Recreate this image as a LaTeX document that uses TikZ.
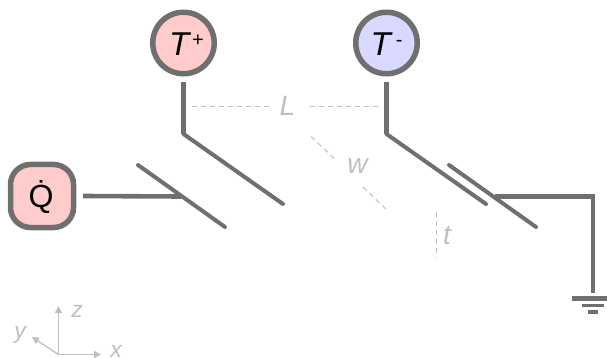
\documentclass[tikz,border=0pt]{standalone}
\usepackage{fontspec}
\setmainfont{Liberation Sans}
\usetikzlibrary{arrows.meta}
\definecolor{wire}{HTML}{6F6F6F}
\definecolor{faint}{HTML}{BFBFBF}
\definecolor{hot}{HTML}{FFCCCC}
\definecolor{cold}{HTML}{D9D9FF}
\newcommand{\bigtxt}{\fontsize{33}{33}\selectfont\itshape}
\newcommand{\suptxt}[1]{\raisebox{9.5pt}{\fontsize{20}{20}\selectfont\upshape #1}}
\newcommand{\dimtxt}{\fontsize{28}{28}\selectfont\itshape\color{faint}}
\newcommand{\axtxt}{\fontsize{23}{23}\selectfont\itshape\color{faint}}
\tikzset{
  x=1pt,y=-1pt,
  terminal/.style={draw=wire,line width=5.5pt,fill=#1,circle,minimum size=61.5pt,inner sep=0pt,outer sep=8pt},
  source/.style={draw=wire,line width=5.5pt,fill=#1,rounded corners=20pt,minimum size=63pt,inner sep=0pt,outer sep=9.5pt},
  lead/.style={draw=wire,line width=4.6pt,line join=miter},
  plate/.style={draw=wire,line width=4pt,line cap=round,line join=miter},
  gnd/.style={draw=wire},
  dim/.style={draw=faint,line width=1pt,dash pattern=on 5pt off 4pt},
  axis/.style={draw=faint,line width=1.3pt,-{Triangle[length=7pt,width=7pt]}},
  txt/.style={inner sep=0pt,anchor=base},
}
\begin{document}
\begin{tikzpicture}
\useasboundingbox (0,0) rectangle (607,358);
% terminals
\node[terminal=hot] (tp) at (183.5,43) {};
\node[txt] (tpt) at (186.5,55.7) {\bigtxt T\hspace{3pt}\suptxt{+}};
\node[terminal=cold] (tm) at (386.5,43) {};
\node[txt] (tmt) at (386.5,55.7) {\bigtxt T\hspace{5pt}\suptxt{-}};
\node[source=hot] (q) at (42,196) {};
\node[txt] (qt) at (41,207.5) {\fontsize{32}{32}\selectfont \.{Q}};
% corners
\coordinate (c1) at (183.5,134);
\coordinate (e1) at (283,204);
\coordinate (c2) at (386.5,134);
\coordinate (e2) at (486,204);
\coordinate (p1a) at (138,165);
\coordinate (p1b) at (225,227);
\coordinate (p2a) at (449,165);
\coordinate (p2b) at (536,227);
\coordinate (j1) at (181,196.5);
\coordinate (j2) at (495,196.5);
\coordinate (rc) at (593,196.5);
\coordinate (re) at (593,293);
% wires
\draw[lead] (tp.south) -- (c1);
\draw[plate] (c1) -- (e1);
\draw[lead] (tm.south) -- (c2);
\draw[plate] (c2) -- (e2);
\draw[lead] (q.east) -- (j1);
\draw[plate] (p1a) -- (p1b);
\draw[plate] (p2a) -- (p2b);
\draw[lead] (j2) -- (rc) -- (re);
% ground
\coordinate (g1a) at (572,298.5); \coordinate (g1b) at (607,298.5);
\coordinate (g2a) at (582,305.7); \coordinate (g2b) at (604,305.7);
\coordinate (g3a) at (588,312); \coordinate (g3b) at (598,312);
\draw[gnd,line width=4.6pt] (g1a) -- (g1b);
\draw[gnd,line width=3.4pt] (g2a) -- (g2b);
\draw[gnd,line width=3.4pt] (g3a) -- (g3b);
% dimensions
\node[txt] (L) at (287.5,116) {\dimtxt L};
\coordinate (l1) at (192,106.5); \coordinate (l2) at (271,106.5);
\coordinate (l3) at (310,106.5); \coordinate (l4) at (378,106.5);
\draw[dim] (l1) -- (l2);
\draw[dim] (l3) -- (l4);
\node[txt] (w) at (357.5,174) {\dimtxt w};
\coordinate (w1) at (311,136.5); \coordinate (w2) at (337,161);
\coordinate (w3) at (363,187); \coordinate (w4) at (386,209);
\draw[dim] (w1) -- (w2);
\draw[dim] (w3) -- (w4);
\node[txt] (t) at (447,244) {\dimtxt t};
\coordinate (t1) at (436,212); \coordinate (t2) at (436,258);
\draw[dim] (t1) -- (t2);
% axes
\coordinate (o) at (58.5,354.5);
\coordinate (ax) at (101,354.5);
\coordinate (ay) at (32,337);
\coordinate (az) at (58.5,306);
\draw[axis] (o) -- (ax);
\draw[axis] (o) -- (ay);
\draw[axis] (o) -- (az);
\node[txt] (xl) at (116,357.5) {\axtxt x};
\node[txt] (yl) at (20,338) {\axtxt y};
\node[txt] (zl) at (77,317) {\axtxt z};
\end{tikzpicture}
\end{document}
